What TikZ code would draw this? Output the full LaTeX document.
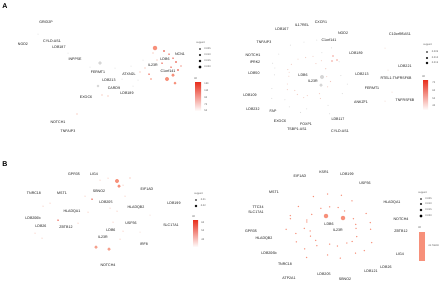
\documentclass[tikz,border=0pt]{standalone}
\usepackage{fontspec}
\setmainfont{Liberation Sans}
\usetikzlibrary{backgrounds,calc}
\definecolor{edgec}{HTML}{C8C8C8}
\definecolor{gry}{HTML}{D6D6D6}
\definecolor{lpk}{HTML}{F2C8BE}
\definecolor{pk}{HTML}{F5A08D}
\definecolor{sal}{HTML}{F7907A}
\definecolor{rd}{HTML}{E63A26}
\definecolor{barred}{HTML}{E8301E}
\begin{document}
\begin{tikzpicture}[x=1pt,y=-1pt,
  lbl/.style={font=\fontsize{3.6}{4.3}\selectfont, inner sep=0.4pt, text=black!90},
  dotn/.style={circle, inner sep=0pt, draw=none},
  edge/.style={draw=edgec, line width=0.25pt},
  legt/.style={font=\fontsize{2.5}{3}\selectfont, inner sep=0.2pt, text=black!70, anchor=west},
  panel/.style={font=\fontsize{7}{8}\selectfont\bfseries, inner sep=0pt}]
\useasboundingbox (0,0) rectangle (440,282);
\fill[white] (0,0) rectangle (440,282);

\node[panel] (pA) at (5,6) {A};
\node[panel] (pB) at (5,164) {B};

% ================= Panel A left =================
\foreach \n/\x/\y/\t in {aGR/46/22/GRID2P, aNO/23/44/NOD2, aCY/52/41/CYLD-AS1, aL187/59/47/LDB187,
  aIN/75/59/INPP5E, aFE/98/72/FERMT1, aL213/109/80/LDB213, aCA/114/88/CARD9, aAT/129/74/ATXN2L,
  aL189/127/93/LDB189, aEX/86/97/EXOC6, aNT/58/122/NOTCH1, aTN/68/131/TNFAIP3, aL6/165/59/LDB6,
  aNC/180/54/NCN1, aIL/153/65/IL23R, aC1/168/71/C1orf141}
  \node[lbl] (\n) at (\x,\y) {\t};

\foreach \n/\x/\y/\s/\c in {g10/38/34/1/gry, g9/68/53/1/gry, d2/100/63/3.6/gry, d3/98/86/2.6/gry,
  d4/102/95/1.1/pk, d5/108/96/1.1/pk, d6/77/114/1.1/pk, g1/115/68/1/gry, g2/122/79/1/gry, g3/131/66/1/gry,
  g4/138/80/1/gry, g5/143/60/1/gry, g6/118/86/1/gry, g7/133/86/1/gry, g8/90/67/1/gry,
  k1/155/48/4.5/sal, k2/164/51/1.8/rd, k3/169/54/1.5/rd, k4/173/58/1.5/rd, k5/176/62/1.8/rd,
  k6/162/63/1.5/rd, k7/171/67/1.5/rd, k8/178/70/1.8/rd, k9/173/75/3.5/sal, k10/167/79/4/sal,
  k11/175/83/3/sal, k12/149/74/1.5/rd, k13/151/79/1.6/sal, k14/145/68/1.2/pk, k15/140/72/1.2/pk,
  k16/157/60/1.2/pk, k17/181/66/1.2/rd, k18/153/53/1.2/pk}
  \node[dotn, minimum size=\s pt, fill=\c] (\n) at (\x,\y) {};

\begin{pgfonlayer}{background}
\foreach \a/\b in {aGR/g10, g10/aNO, aGR/g9, aCY/g9, aL187/g9, g9/aIN, g9/d2, aIN/d2, d2/aFE, d2/g1,
  d2/g3, d2/g5, aFE/g1, g1/aL213, g1/aAT, g3/aAT, g3/aIL, g5/aIL, g5/aL6, aL213/d3, d3/aCA, d3/aEX,
  d3/d4, d3/d5, d4/aL189, d5/aL189, d5/aCA, aEX/d6, d6/aNT, d6/aTN, aNT/aTN, g2/aAT, g2/aCA, g2/aL213,
  g4/aAT, g4/aIL, g6/aCA, g6/aL189, g7/aL189, g7/aAT, g8/aFE, g8/aIN, g8/aL213,
  k12/aAT, k12/aIL, k13/aIL, k13/aAT, k14/aAT, k14/aIL, k15/aAT, k15/aIL, k16/aIL, k16/aL6,
  k1/aL6, k1/aIL, k18/aIL, k18/aL6, k2/aL6, k2/aNC, k3/aNC, k3/aL6, k4/aNC, k4/aC1, k5/aC1, k5/aNC,
  k6/aIL, k6/aC1, k7/aC1, k7/aL6, k8/aC1, k8/aNC, k9/aC1, k9/aIL, k10/aIL, k10/aC1, k11/aC1,
  k11/aL6, k17/aC1, k17/aNC}
  \draw[edge] (\a) -- (\b);
\end{pgfonlayer}

% legend A left
\node[legt] (lsA) at (196,43) {support};
\foreach \i/\y/\s/\t in {1/49/1.6/0.005, 2/55/2.2/0.010, 3/61/2.8/0.015, 4/67/3.3/0.020} {
  \node[dotn, fill=black, minimum size=\s pt] (lsAd\i) at (200,\y) {};
  \node[legt] (lsAt\i) at (204,\y) {\t};
}
\node[legt] (llA) at (194,79) {lift};
\shade[top color=barred, bottom color=white] (195,82) rectangle (201,111);
\foreach \i/\y/\t in {1/84/130, 2/91/110, 3/98/90, 4/105/70, 5/111/50}
  \node[legt] (llAt\i) at (204,\y) {\t};

% ================= Panel A right =================
\node[lbl] (bL6) at (303,75) {LDB6};
\node[lbl] (bIL) at (313,81) {IL23R};
\coordinate (bh) at (308,78);
\foreach \n/\x/\y/\t in {b1/282/29/LDB167, b2/302/25/IL17REL, b3/321/22/CXCR1, b4/264/42/TNFAIP3,
  b5/329/40/C1orf141, b6/253/55/NOTCH1, b7/255/62/IPRK2, b8/254/73/LDB50, b9/250/95/LDB109,
  b10/253/109/LDB232, b11/273/111/FAP, b12/280/121/EXOC6, b13/306/124/FOXP1, b14/297/129/TSBP1-AS1,
  b15/340/131/CYLD-AS1, b16/343/33/NOD2, b17/356/53/LDB189, b18/362/74/LDB213, b19/372/88/FERMT1,
  b20/361/102/ANKZF1, b21/338/119/LDB117, b22/400/34/C10orf95AS1, b23/405/66/LDB221,
  b24/396/78/RTEL1-TNFRSF6B, b25/405/100/TNFRSF6B}
  \node[lbl] (\n) at (\x,\y) {\t};
\foreach \i in {1,...,21}
  \path (bh) -- (b\i) node[dotn, minimum size=1.1pt, fill=lpk, pos=0.4] (bp\i) {}
                      node[dotn, minimum size=1pt, fill=gry, pos=0.7] (bq\i) {};
\foreach \n/\x/\y/\s/\c in {bg1/322/77/4/gry, bg2/321/85/3.5/gry, br1/333/56/1.4/rd, br2/337/60/1.4/rd,
  br3/332/61/1.3/rd, r1/385/48/1/lpk, r2/388/70/1/lpk, r3/392/92/1/lpk, r4/385/101/1/lpk}
  \node[dotn, minimum size=\s pt, fill=\c] (\n) at (\x,\y) {};
\begin{pgfonlayer}{background}
\foreach \i in {1,...,21}
  \draw[edge] (bh) -- (bp\i) -- (bq\i) -- (b\i);
\foreach \a/\b in {bg1/bIL, bg1/b18, bg2/bIL, bg2/b19, br1/b5, br1/b16, br2/b16, br2/b17, br3/b5,
  br3/bL6, b17/r1, r1/b22, r1/b23, b18/r2, r2/b24, r2/b23, b19/r3, r3/b25, r3/b24, b20/r4, r4/b25}
  \draw[edge] (\a) -- (\b);
\end{pgfonlayer}

% legend A right
\node[legt] (lsB) at (423,45) {support};
\foreach \i/\y/\s/\t in {1/52/1.6/0.005, 2/58/2.2/0.010, 3/63/2.8/0.015} {
  \node[dotn, fill=black, minimum size=\s pt] (lsBd\i) at (427,\y) {};
  \node[legt] (lsBt\i) at (431.5,\y) {\t};
}
\node[legt] (llB) at (422,77) {lift};
\shade[top color=barred, bottom color=white] (423,80) rectangle (428,110);
\foreach \i/\y/\t in {1/83/70, 2/91/60, 3/99/50, 4/106/40}
  \node[legt] (llBt\i) at (432,\y) {\t};

% ================= Panel B left =================
\foreach \n/\x/\y/\t in {cGP/74/174/GPR35, cLI/94/174/LIG4, cTN/34/193/TNRC18, cMS/62/193/MST1,
  cSB/99/191/SBNO2, cL205/106/202/LDB205, cHA/72/212/HLADQA1, cL206/33/218/LDB206b, cL26/41/226/LDB26,
  cZB/66/227/ZBTB12, cL6/111/230/LDB6, cIL/103/237/IL23R, cNT4/108/265/NOTCH4, cEI/147/189/EIF1AD,
  cHB/136/208/HLADQB2, cL199/174/203/LDB199, cUS/131/223/USP36, cSL/171/225/SLC17A1, cIR/144/244/IRF8}
  \node[lbl] (\n) at (\x,\y) {\t};
\coordinate (ch) at (107,233);
\foreach \n/\x/\y/\s/\c in {p1/117/181/4/sal, p2/119/186/3.5/sal, p3/96/247/3.5/pk, p4/109/249/3.5/pk,
  p5/92/199/1.5/rd, p6/58/220/1.5/rd, p7/85/196/1/pk, p8/50/203/1/pk, p9/43/206/1/pk, p10/35/233/1/pk,
  p11/42/238/1/pk, p12/78/223/1/pk, p13/100/180/1/pk, p14/108/178/1/pk, p15/110/208/1/pk,
  p16/113/222/1/pk, p17/123/185/1/pk, p18/125/196/1/pk, p19/123/231/1/pk, p20/120/239/1/pk,
  p21/130/178/1.2/pk, p22/117/211/1/pk, p23/150/215/1/lpk, p24/140/232/1/lpk, p25/88/212/1/pk}
  \node[dotn, minimum size=\s pt, fill=\c] (\n) at (\x,\y) {};
\begin{pgfonlayer}{background}
\foreach \a/\b in {p1/cSB, p1/cEI, p1/cIL, p2/cL205, p2/cEI, p2/cL6, p3/cIL, p3/cNT4, p4/cL6, p4/cNT4,
  p5/cSB, p5/cHA, p5/cMS, p6/cHA, p6/cZB, p6/cL206, p7/cGP, p7/cMS, p7/cL205, p8/cTN, p8/cMS,
  p9/cTN, p9/cL206, p10/cL206, p10/cL26, p11/cL26, p11/cZB, p12/cHA, p12/cZB, p12/cIL,
  p13/cGP, p13/cLI, p14/cLI, p14/cSB, p15/cL205, p15/cIL, p16/cHB, p16/cL6, p17/cEI, p17/cL6,
  p18/cHB, p18/cEI, p19/cUS, p19/cL6, p20/cIR, p20/cIL, p21/cEI, p21/cLI, p22/cHB, p22/cUS,
  p23/cL199, p23/cSL, p23/cHB, p24/cSL, p24/cUS, p24/cIR, p25/cHA, p25/cL205,
  p5/ch, p6/ch, p7/ch, p8/ch, p9/ch, p10/ch, p11/ch, p12/ch, p13/ch, p14/ch, p18/ch, p21/ch, p22/ch,
  p23/ch, p24/ch, p25/ch}
  \draw[edge] (\a) -- (\b);
\end{pgfonlayer}

% legend B left
\node[legt] (lsC) at (194,194) {support};
\foreach \i/\y/\s/\t in {1/200/1.8/0.01, 2/206/2.8/0.02} {
  \node[dotn, fill=black, minimum size=\s pt] (lsCd\i) at (196,\y) {};
  \node[legt] (lsCt\i) at (200.5,\y) {\t};
}
\node[legt] (llC) at (192,217) {lift};
\shade[top color=barred, bottom color=white] (193,220) rectangle (198,247);
\foreach \i/\y/\t in {1/223/60, 2/231/50, 3/240/40}
  \node[legt] (llCt\i) at (201,\y) {\t};

% ================= Panel B right =================
\node[lbl] (eL6) at (329,224) {LDB6};
\node[lbl] (eIL) at (338,230) {IL23R};
\coordinate (eh) at (333,227);
\foreach \n/\x/\y/\t in {e1/300/176/EIF1AD, e2/324/172/KSR1, e3/347/174/LDB199, e4/365/183/USP36,
  e5/274/192/MST1, e6/258/207/TTC34, e7/256/212/SLC17A1, e8/251/231/GPR35, e9/264/239/HLADQB2,
  e10/269/253/LDB206b, e11/285/264/TNRC18, e12/289/278/ATP2A1, e13/392/203/HLADQA1,
  e14/401/219/NOTCH4, e15/401/231/ZBTB12, e16/400/254/LIG4, e17/386/267/LDB26, e18/371/271/LDB121,
  e19/324/274/LDB205, e20/345/279/SBNO2}
  \node[lbl] (\n) at (\x,\y) {\t};
\foreach \i in {1,...,20}
  \path (eh) -- (e\i) node[dotn, minimum size=1.5pt, fill=sal, pos=0.38] (ep\i) {}
                      node[dotn, minimum size=1.5pt, fill=sal, pos=0.62] (eq\i) {};
\node[dotn, minimum size=4.5pt, fill=sal] (eb1) at (326,216) {};
\node[dotn, minimum size=4.5pt, fill=sal] (eb2) at (343,218) {};
\begin{pgfonlayer}{background}
\foreach \i in {1,...,20}
  \draw[edge] (eh) -- (ep\i) -- (eq\i) -- (e\i);
\draw[edge] (eb1) -- (eL6);
\draw[edge] (eb2) -- (eIL);
\end{pgfonlayer}

% legend B right
\node[legt] (lsD) at (418,193) {support};
\foreach \i/\y/\s/\t in {1/199/1.6/0.005, 2/204/2.2/0.010, 3/210/2.8/0.015, 4/216/3.3/0.020} {
  \node[dotn, fill=black, minimum size=\s pt] (lsDd\i) at (421,\y) {};
  \node[legt] (lsDt\i) at (425,\y) {\t};
}
\node[legt] (llD) at (418,228) {lift};
\fill[sal] (419,232) rectangle (425,261);
\node[legt] (llDt) at (428,246) {41.76603};
\end{tikzpicture}
\end{document}
